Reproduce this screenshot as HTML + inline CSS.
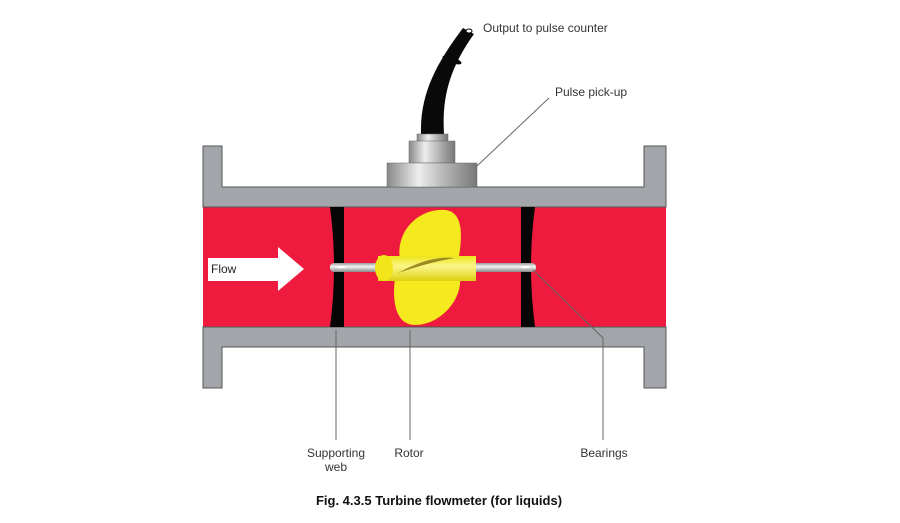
<!DOCTYPE html>
<html><head><style>body{margin:0;background:#fff}svg{display:block}text{font-family:"Liberation Sans",sans-serif;font-size:12px;fill:#333}</style></head><body>
<svg width="900" height="523" viewBox="0 0 900 523">
<defs>
<linearGradient id="met" x1="0" x2="1"><stop offset="0" stop-color="#888"/><stop offset=".35" stop-color="#eee"/><stop offset=".7" stop-color="#aaa"/><stop offset="1" stop-color="#777"/></linearGradient>
<linearGradient id="sh" x1="0" y1="0" x2="0" y2="1"><stop offset="0" stop-color="#999"/><stop offset=".4" stop-color="#f4f4f4"/><stop offset="1" stop-color="#888"/></linearGradient>
<linearGradient id="hub" x1="0" y1="0" x2="0" y2="1"><stop offset="0" stop-color="#eee41a"/><stop offset=".4" stop-color="#fbf58a"/><stop offset="1" stop-color="#dcd010"/></linearGradient>
</defs>
<rect x="203" y="207" width="463" height="120" fill="#ee1b3e"/>
<path d="M203 146H222V187H644V146H666V207H203Z" fill="#a2a6ab" stroke="#555" stroke-width="1"/>
<path d="M203 327H666V388H644V347H222V388H203Z" fill="#a2a6ab" stroke="#555" stroke-width="1"/>
<path d="M330 207H344V327H330Q338 267 330 207Z" fill="#050505"/>
<path d="M521 207H535Q527 267 535 327H521Z" fill="#050505"/>
<path d="M208 258H278V247L304 269L278 291V281H208Z" fill="#fff"/>
<text x="211" y="273" style="fill:#222">Flow</text>
<rect x="330" y="263" width="206" height="9" rx="4" fill="url(#sh)"/>
<rect x="337" y="266" width="8" height="2" fill="#fff"/><rect x="521" y="266" width="8" height="2" fill="#fff"/>
<path d="M400 260C395 230 420 208 445 210C465 212 462 240 458 262Z" fill="#f5ea1e"/>
<path d="M395 278H460C462 300 440 325 415 325C395 325 392 300 395 278Z" fill="#f5ea1e"/>
<rect x="378" y="256" width="98" height="25" fill="url(#hub)"/>
<ellipse cx="384" cy="268" rx="9" ry="13" fill="#f2e61a"/>
<path d="M398 273Q430 255 455 258Q430 262 398 273Z" fill="#9c8a20"/>
<path d="M421 134C420 95 435 65 463 28L474 34C448 70 442 100 444 134Z" fill="#0a0a0a"/>
<ellipse cx="469" cy="31" rx="3" ry="2" fill="#fff" stroke="#0a0a0a"/>
<ellipse cx="452" cy="60" rx="10" ry="3" transform="rotate(20 452 60)" fill="#0a0a0a"/>
<rect x="417" y="134" width="31" height="8" fill="url(#met)" stroke="#666" stroke-width=".5"/>
<rect x="409" y="141" width="46" height="22" fill="url(#met)" stroke="#666" stroke-width=".5"/>
<rect x="387" y="163" width="90" height="24" fill="url(#met)" stroke="#666" stroke-width=".5"/>
<g stroke="#666" stroke-width="1" fill="none">
<path d="M477 166L549 98"/><path d="M336 330V440"/><path d="M410 330V440"/><path d="M533 270L603 338V440"/>
</g>
<text x="483" y="32">Output to pulse counter</text>
<text x="555" y="96">Pulse pick-up</text>
<text x="336" y="457" text-anchor="middle">Supporting</text>
<text x="336" y="471" text-anchor="middle">web</text>
<text x="409" y="457" text-anchor="middle">Rotor</text>
<text x="604" y="457" text-anchor="middle">Bearings</text>
<text x="439" y="505" text-anchor="middle" style="font-weight:bold;font-size:13px;fill:#111">Fig. 4.3.5 Turbine flowmeter (for liquids)</text>
</svg>
</body></html>
